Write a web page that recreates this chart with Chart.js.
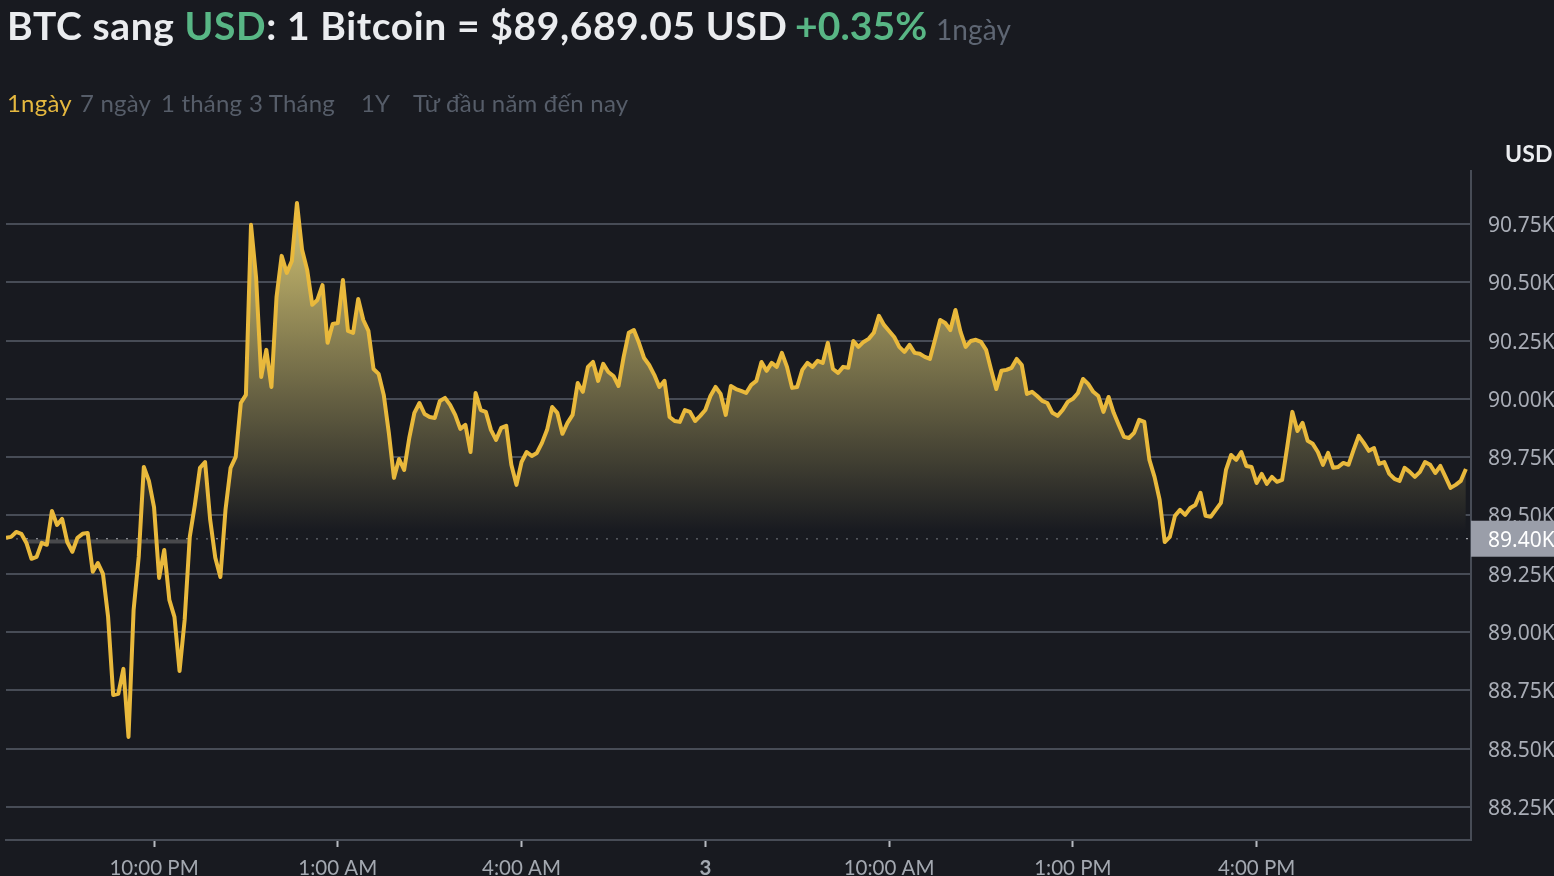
<!DOCTYPE html>
<html lang="vi">
<head>
  <meta charset="UTF-8" />
  <title>BTC sang USD</title>
  <script src="https://cdn.jsdelivr.net/npm/chart.js"></script>
  <style>
    html, body { margin: 0; padding: 0; background: #181a20; overflow: hidden; }
    body { width: 1554px; height: 876px; position: relative; font-family: Lato, "Noto Sans", sans-serif; }
    #wrap { position: absolute; left: 0; top: 0; width: 1554px; height: 876px; }
    .t { position: absolute; white-space: nowrap; }
    .title { top: 2px; font-size: 39px; line-height: 46px; font-weight: 700; color: #eaecef; letter-spacing: 0.6px; }
    .green { color: #58b685; }
    .tab { top: 89px; font-size: 24px; line-height: 28px; color: #565d69; letter-spacing: 0.2px; }
    #usd { left: 1505px; top: 139px; font-size: 23px; line-height: 28px; font-weight: 700; color: #eaecef; letter-spacing: 0.2px; }
  </style>
</head>
<body>
  <div id="wrap"><canvas id="priceChart" width="1554" height="876"></canvas></div>

  <div class="t title" style="left:7px">BTC sang <span class="green">USD</span>: 1 Bitcoin = $89,689.05 USD</div>
  <div class="t title green" style="left:795px;letter-spacing:0.1px">+0.35%</div>
  <div class="t" style="left:936px;top:11px;font-size:28px;line-height:36px;color:#5e6673;letter-spacing:0.1px">1ngày</div>

  <div class="t tab" style="left:7px;color:#e5b83f">1ngày</div>
  <div class="t tab" style="left:80px">7 ngày</div>
  <div class="t tab" style="left:161px">1 tháng</div>
  <div class="t tab" style="left:249px">3 Tháng</div>
  <div class="t tab" style="left:361px">1Y</div>
  <div class="t tab" style="left:413px">Từ đầu năm đến nay</div>

  <div class="t" id="usd">USD</div>

  <script>
    // minutes counted from 10:00 PM, one price every 5 minutes
    const startMinute = -145;
    const stepMinutes = 5;
    const prices = [
      89404, 89408, 89429, 89421, 89382, 89314, 89322, 89382, 89374, 89519,
      89459, 89485, 89386, 89344, 89404, 89421, 89425, 89258, 89296, 89249,
      89065, 88730, 88735, 88842, 88550, 89095, 89322, 89708, 89648, 89536,
      89232, 89352, 89138, 89065, 88833, 89052, 89408, 89545, 89704, 89729,
      89481, 89318, 89236, 89524, 89704, 89751, 89982, 90017, 90746, 90518,
      90094, 90210, 90051, 90437, 90613, 90540, 90591, 90840, 90639, 90553,
      90403, 90424, 90488, 90240, 90321, 90325, 90510, 90291, 90283, 90428,
      90338, 90291, 90128, 90107, 90017, 89854, 89661, 89742, 89695, 89832,
      89940, 89982, 89935, 89922, 89918, 89991, 90004, 89974, 89931, 89871,
      89888, 89772, 90025, 89952, 89944, 89867, 89824, 89875, 89884, 89717,
      89631, 89729, 89772, 89755, 89768, 89811, 89867, 89965, 89940, 89850,
      89897, 89931, 90068, 90030, 90137, 90158, 90077, 90150, 90115, 90098,
      90055, 90180, 90283, 90295, 90240, 90175, 90145, 90103, 90051, 90077,
      89922, 89905, 89901, 89952, 89944, 89905, 89927, 89952, 90012, 90051,
      90021, 89931, 90055, 90042, 90034, 90025, 90060, 90077, 90158, 90120,
      90154, 90137, 90197, 90137, 90047, 90051, 90124, 90154, 90137, 90163,
      90154, 90240, 90128, 90111, 90137, 90133, 90248, 90223, 90244, 90257,
      90283, 90356, 90317, 90291, 90265, 90223, 90201, 90231, 90197, 90193,
      90180, 90171, 90253, 90338, 90325, 90295, 90381, 90287, 90223, 90248,
      90253, 90244, 90210, 90124, 90042, 90120, 90124, 90133, 90171, 90145,
      90021, 90030, 90012, 89991, 89982, 89940, 89927, 89952, 89987, 90000,
      90025, 90085, 90064, 90030, 90012, 89944, 90008, 89940, 89888, 89837,
      89832, 89854, 89910, 89901, 89738, 89665, 89567, 89386, 89408, 89498,
      89524, 89502, 89532, 89545, 89597, 89498, 89494, 89524, 89554, 89695,
      89759, 89738, 89772, 89712, 89708, 89639, 89678, 89635, 89665, 89644,
      89652, 89794, 89944, 89862, 89897, 89820, 89807, 89772, 89717, 89768,
      89704, 89708, 89725, 89717, 89781, 89841, 89811, 89777, 89789, 89721,
      89729, 89678, 89657, 89648, 89704, 89687, 89665, 89687, 89729, 89717,
      89682, 89712, 89665, 89618, 89631, 89648, 89699
    ];
    const basePrice = 89400;
    const baseLabel = '89.40K';
    const yTicks = [88250, 88500, 88750, 89000, 89250, 89500, 89750, 90000, 90250, 90500, 90750];
    const yLabels = ['88.25K', '88.50K', '88.75K', '89.00K', '89.25K', '89.50K', '89.75K', '90.00K', '90.25K', '90.50K', '90.75K'];
    const xTicks = [0, 180, 360, 540, 720, 900, 1080];
    const xLabels = ['10:00 PM', '1:00 AM', '4:00 AM', '3', '10:00 AM', '1:00 PM', '4:00 PM'];
    // the dark band just under the base line on the left
    const bandMinutes = [-125, 33];
    const bandValues = [89388, 89388];

    const bg = '#181a20';
    const lineColor = '#e9b93c';
    const gridColor = '#474c56';

    // area under the price, opaque so it hides the grid lines
    function areaFill(ctx) {
      const { chart } = ctx;
      if (!chart.chartArea) return bg;
      const y = chart.scales.y;
      const g = chart.ctx.createLinearGradient(0, y.getPixelForValue(90840), 0, y.getPixelForValue(89430));
      g.addColorStop(0, '#d6c674');
      g.addColorStop(1, bg);
      return g;
    }

    const baseTag = {
      id: 'baseTag',
      afterDraw(chart) {
        const c = chart.ctx, y = chart.scales.y, a = chart.chartArea;
        const py = y.getPixelForValue(basePrice);
        c.save();
        c.fillStyle = '#9a9ea9';
        c.fillRect(a.right, py - 18, 1554 - a.right, 36);
        c.fillStyle = '#ffffff';
        c.font = '21px "Noto Sans"';
        c.textBaseline = 'middle';
        c.fillText(baseLabel, 1488, py + 2);
        c.restore();
      }
    };

    new Chart(document.getElementById('priceChart'), {
      type: 'line',
      plugins: [baseTag],
      data: {
        datasets: [
          {
            data: prices.map((p, i) => ({ x: startMinute + i * stepMinutes, y: p })),
            borderColor: lineColor,
            borderWidth: 4,
            pointRadius: 0,
            tension: 0,
            borderJoinStyle: 'round',
            fill: { target: { value: basePrice }, above: areaFill, below: 'rgba(0,0,0,0)' },
            order: 1
          },
          {
            data: bandMinutes.map((m, i) => ({ x: m, y: bandValues[i] })),
            borderColor: 'rgba(130,130,130,0.45)',
            borderWidth: 4,
            pointRadius: 0,
            fill: false,
            order: 3
          },
          {
            data: [{ x: startMinute, y: basePrice }, { x: 1290, y: basePrice }],
            borderColor: '#c4c6cc',
            borderWidth: 1,
            borderDash: [2, 8],
            pointRadius: 0,
            fill: false,
            order: 2
          }
        ]
      },
      options: {
        responsive: false,
        animation: false,
        layout: { padding: { left: 6, top: 171, right: 0, bottom: 0 } },
        plugins: { legend: { display: false }, tooltip: { enabled: false } },
        scales: {
          x: {
            type: 'linear',
            min: startMinute,
            max: 1290,
            afterBuildTicks: s => { s.ticks = xTicks.map(v => ({ value: v })); },
            afterFit: s => { s.height = 36; },
            border: { color: gridColor, width: 2 },
            grid: { drawOnChartArea: false, drawTicks: true, tickLength: 7, tickWidth: 2, tickColor: '#b7bac1' },
            ticks: {
              autoSkip: false,
              maxRotation: 0,
              padding: 9,
              color: '#a3a8b0',
              font: c => ({ family: 'Lato', size: 20.5, weight: xLabels[c.index] === '3' ? 'bold' : 'normal' }),
              callback: (v, i) => xLabels[i]
            }
          },
          y: {
            position: 'right',
            min: 88108,
            max: 90977,
            afterBuildTicks: s => { s.ticks = yTicks.map(v => ({ value: v })); },
            afterFit: s => { s.width = 83; },
            border: { color: gridColor, width: 2 },
            grid: { color: gridColor, lineWidth: 2, drawTicks: false },
            ticks: {
              padding: 17,
              color: '#a9adb6',
              // empty first line with a small line height nudges the text 2px down
              font: { family: '"Noto Sans"', size: 21, lineHeight: 0.2 },
              callback: (v, i) => ['', yLabels[i]]
            }
          }
        }
      }
    });
  </script>
</body>
</html>
